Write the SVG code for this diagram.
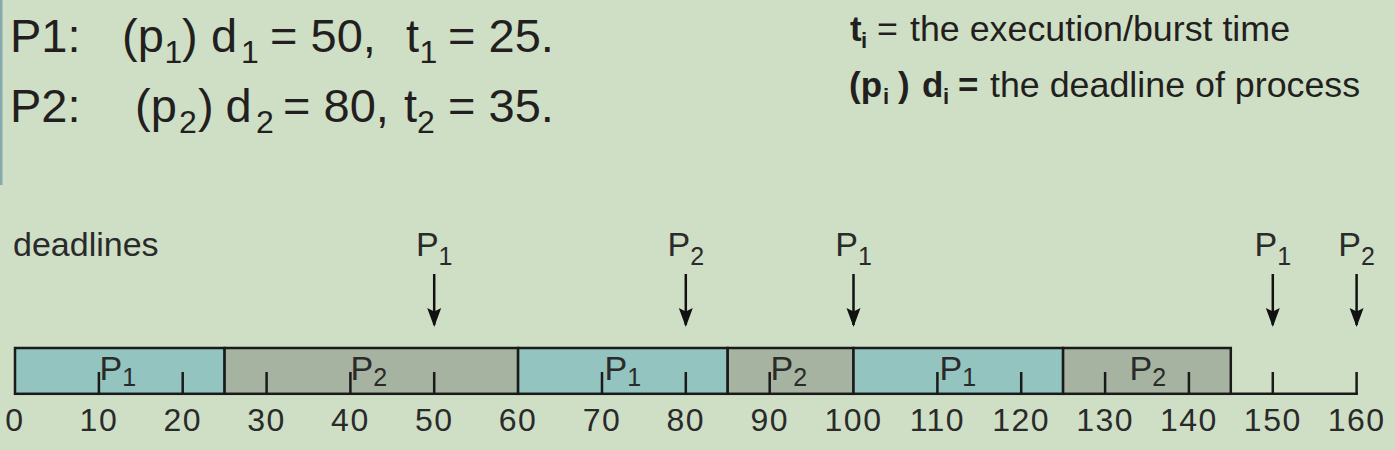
<svg xmlns="http://www.w3.org/2000/svg" width="1395" height="450" viewBox="0 0 1395 450">
  <defs>
    <style>
      text { font-family: "Liberation Sans", Arial, sans-serif; fill: #231f20; }
      .big { font-size: 47px; }
      .bigsub { font-size: 32px; }
      .leg { font-size: 35.8px; }
      .legb { font-size: 35px; font-weight: bold; }
      .legsub { font-size: 22px; font-weight: bold; }
      .lab { font-size: 34px; fill: #2a2a2a; }
      .sub { font-size: 25px; }
      .axis { font-size: 32px; fill: #2a2a2a; text-anchor: middle; letter-spacing: 1.5px; }
      .seg { stroke: #1a1a1a; stroke-width: 2.5; }
      .p1 { fill: #93c4bf; }
      .p2 { fill: #a6b3a0; }
      .tick { stroke: #1a1a1a; stroke-width: 2.5; fill: none; }
      .arr { stroke: #111; stroke-width: 2.5; fill: none; marker-end: url(#ah); }
    </style>
    <marker id="ah" markerWidth="19" markerHeight="16" refX="17" refY="8" orient="auto" markerUnits="userSpaceOnUse" viewBox="0 0 19 16">
      <path d="M0,1 L19,8 L0,15 L3.5,8 Z" fill="#111"/>
    </marker>
  </defs>

  <rect x="0" y="0" width="1395" height="450" fill="#cfdfc5"/>
  <rect x="0" y="0" width="2.5" height="185" fill="#86a9ad"/>

  <g id="header">
    <text class="big" x="10" y="52">P1:</text>
    <text class="big" x="122" y="52">(p</text>
    <text class="bigsub" x="164.5" y="63">1</text>
    <text class="big" x="182" y="52">)</text>
    <text class="big" x="211" y="52">d</text>
    <text class="bigsub" x="241" y="63">1</text>
    <text class="big" x="270" y="52">= 50,</text>
    <text class="big" x="406" y="52">t</text>
    <text class="bigsub" x="419.5" y="63">1</text>
    <text class="big" x="448" y="52">= 25.</text>

    <text class="big" x="10" y="122">P2:</text>
    <text class="big" x="135" y="122">(p</text>
    <text class="bigsub" x="179" y="133">2</text>
    <text class="big" x="198" y="122">)</text>
    <text class="big" x="225.5" y="122">d</text>
    <text class="bigsub" x="256" y="133">2</text>
    <text class="big" x="283" y="122">= 80,</text>
    <text class="big" x="404" y="122">t</text>
    <text class="bigsub" x="417" y="133">2</text>
    <text class="big" x="448" y="122">= 35.</text>
  </g>

  <g id="legend">
    <text class="legb" x="850" y="41">t</text>
    <text class="legsub" x="861" y="48">i</text>
    <text class="leg" x="877" y="41">=</text>
    <text class="leg" x="910" y="41">the execution/burst time</text>

    <text class="legb" x="849" y="97">(p</text>
    <text class="legsub" x="883" y="104">i</text>
    <text class="legb" x="898" y="97">)</text>
    <text class="legb" x="922" y="97">d</text>
    <text class="legsub" x="943" y="104">i</text>
    <text class="legb" x="958" y="97">=</text>
    <text class="leg" x="990" y="97">the deadline of process</text>
  </g>

  <text id="deadlines-label" class="lab" x="13" y="256">deadlines</text>

  <g id="deadline-labels">
    <text class="lab" x="434.2" y="256" text-anchor="middle">P<tspan class="sub" dy="9">1</tspan></text>
    <text class="lab" x="685.8" y="256" text-anchor="middle">P<tspan class="sub" dy="9">2</tspan></text>
    <text class="lab" x="853.5" y="256" text-anchor="middle">P<tspan class="sub" dy="9">1</tspan></text>
    <text class="lab" x="1272.8" y="256" text-anchor="middle">P<tspan class="sub" dy="9">1</tspan></text>
    <text class="lab" x="1356.6" y="256" text-anchor="middle">P<tspan class="sub" dy="9">2</tspan></text>
  </g>

  <g id="connectors">
    <line class="arr" x1="434.2" y1="274" x2="434.2" y2="325"/>
    <line class="arr" x1="685.8" y1="274" x2="685.8" y2="325"/>
    <line class="arr" x1="853.5" y1="274" x2="853.5" y2="325"/>
    <line class="arr" x1="1272.8" y1="274" x2="1272.8" y2="325"/>
    <line class="arr" x1="1356.6" y1="274" x2="1356.6" y2="325"/>
  </g>

  <g id="timeline">
    <g id="seg-p1-a"><rect class="seg p1" x="15" y="348" width="209.6" height="45.8"/></g>
    <g id="seg-p2-a"><rect class="seg p2" x="224.6" y="348" width="293.5" height="45.8"/></g>
    <g id="seg-p1-b"><rect class="seg p1" x="518.1" y="348" width="209.6" height="45.8"/></g>
    <g id="seg-p2-b"><rect class="seg p2" x="727.7" y="348" width="125.8" height="45.8"/></g>
    <g id="seg-p1-c"><rect class="seg p1" x="853.5" y="348" width="209.6" height="45.8"/></g>
    <g id="seg-p2-c"><rect class="seg p2" x="1063.1" y="348" width="167.7" height="45.8"/></g>
    <line class="tick" x1="1230.8" y1="393.8" x2="1357.8" y2="393.8"/>
    <path class="tick" d="M98.9,372 V393.8 M182.7,372 V393.8 M266.6,372 V393.8 M350.4,372 V393.8 M434.2,372 V393.8 M602,372 V393.8 M685.8,372 V393.8 M769.7,372 V393.8 M937.4,372 V393.8 M1021.2,372 V393.8 M1105.1,372 V393.8 M1188.9,372 V393.8 M1272.8,372 V393.8 M1356.6,372 V395"/>
    <g id="seg-labels">
      <text class="lab" x="99.5" y="380">P<tspan class="sub" dy="6">1</tspan></text>
      <text class="lab" x="350.5" y="380">P<tspan class="sub" dy="6">2</tspan></text>
      <text class="lab" x="604.5" y="380">P<tspan class="sub" dy="6">1</tspan></text>
      <text class="lab" x="770.5" y="380">P<tspan class="sub" dy="6">2</tspan></text>
      <text class="lab" x="939.5" y="380">P<tspan class="sub" dy="6">1</tspan></text>
      <text class="lab" x="1129.5" y="380">P<tspan class="sub" dy="6">2</tspan></text>
    </g>
  </g>

  <g id="axis">
    <text class="axis" x="15" y="431">0</text>
    <text class="axis" x="98.9" y="431">10</text>
    <text class="axis" x="182.7" y="431">20</text>
    <text class="axis" x="266.6" y="431">30</text>
    <text class="axis" x="350.4" y="431">40</text>
    <text class="axis" x="434.2" y="431">50</text>
    <text class="axis" x="518.1" y="431">60</text>
    <text class="axis" x="602" y="431">70</text>
    <text class="axis" x="685.8" y="431">80</text>
    <text class="axis" x="769.7" y="431">90</text>
    <text class="axis" x="853.5" y="431">100</text>
    <text class="axis" x="937.4" y="431">110</text>
    <text class="axis" x="1021.2" y="431">120</text>
    <text class="axis" x="1105.1" y="431">130</text>
    <text class="axis" x="1188.9" y="431">140</text>
    <text class="axis" x="1272.8" y="431">150</text>
    <text class="axis" x="1356.6" y="431">160</text>
  </g>
</svg>
